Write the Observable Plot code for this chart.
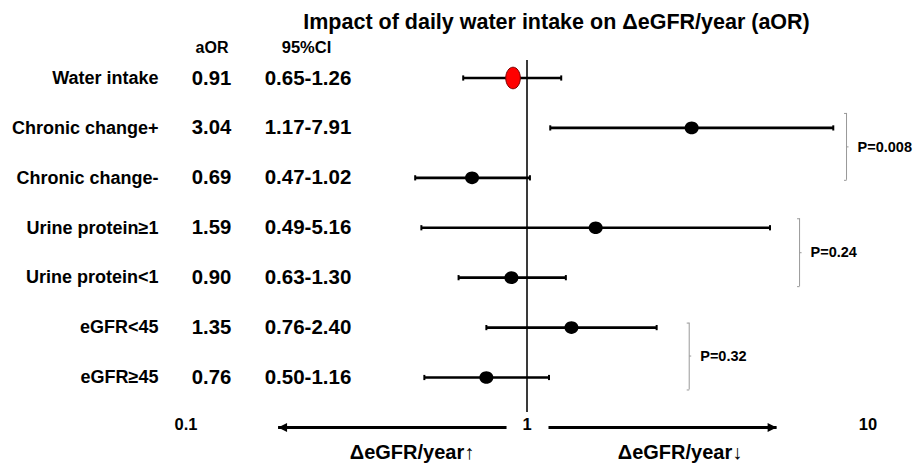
<!DOCTYPE html>
<html>
<head>
<meta charset="utf-8">
<script src="https://cdn.jsdelivr.net/npm/d3@7"></script>
<script src="https://cdn.jsdelivr.net/npm/@observablehq/plot@0.6"></script>
<style>
  html, body { margin: 0; padding: 0; background: #fff; }
  #chart svg { display: block; }
</style>
</head>
<body>
<div id="chart"></div>
<script>
// ---- data ----
const labels = ["Water intake", "Chronic change+", "Chronic change-", "Urine protein≥1", "Urine protein<1", "eGFR<45", "eGFR≥45"];
const aor = [0.91, 3.04, 0.69, 1.59, 0.90, 1.35, 0.76];
const ciLow = [0.65, 1.17, 0.47, 0.49, 0.63, 0.76, 0.50];
const ciHigh = [1.26, 7.91, 1.02, 5.16, 1.30, 2.40, 1.16];
const xTicks = [0.1, 1, 10];
const xTickLabels = ["0.1", "1", "10"];
const pGroups = [[1, 2], [3, 4], [5, 6]];
const pLabels = ["P=0.008", "P=0.24", "P=0.32"];
const title = "Impact of daily water intake on ΔeGFR/year (aOR)";
const arrowLabels = ["ΔeGFR/year↑", "ΔeGFR/year↓"];

// ---- layout (annotation geometry, not data) ----
const bracketLayout = [
  {x: 8.65, top: -0.29, bottom: 0.05, mid: -0.12},
  {x: 6.30, top: -0.18, bottom: 0.18, mid: 0.0},
  {x: 2.99, top: -0.09, bottom: 0.25, mid: 0.07}
];
const axisRow = labels.length; // row slot of the bottom arrows

const rows = labels.map((label, i) => ({
  i, label, aor: aor[i], lo: ciLow[i], hi: ciHigh[i],
  aorText: aor[i].toFixed(2),
  ciText: ciLow[i].toFixed(2) + "-" + ciHigh[i].toFixed(2)
}));
const caps = rows.flatMap(d => [{i: d.i, x: d.lo}, {i: d.i, x: d.hi}]);
const brackets = pGroups.map(([a, b], k) => ({
  x: bracketLayout[k].x,
  top: a + bracketLayout[k].top,
  bottom: b + bracketLayout[k].bottom,
  mid: (a + b) / 2 + bracketLayout[k].mid,
  label: pLabels[k]
}));
const arrows = [
  {from: Math.pow(10, -0.06), to: Math.pow(10, -0.73), dir: "left"},
  {from: Math.pow(10, 0.063), to: Math.pow(10, 0.732), dir: "right"}
];

// ---- custom symbols ----
function ellipse(rx, ry) {
  const k = 0.5523;
  return {draw(ctx) {
    ctx.moveTo(rx, 0);
    ctx.bezierCurveTo(rx, ry * k, rx * k, ry, 0, ry);
    ctx.bezierCurveTo(-rx * k, ry, -rx, ry * k, -rx, 0);
    ctx.bezierCurveTo(-rx, -ry * k, -rx * k, -ry, 0, -ry);
    ctx.bezierCurveTo(rx * k, -ry, rx, -ry * k, rx, 0);
    ctx.closePath();
  }};
}
const vCap = {draw(ctx) { ctx.moveTo(0, -2.6); ctx.lineTo(0, 2.6); }};
const stubLeft = {draw(ctx) { ctx.moveTo(-2.5, 0); ctx.lineTo(0, 0); }};
const stubRight = {draw(ctx) { ctx.moveTo(0, 0); ctx.lineTo(2, 0); }};
const headLeft = {draw(ctx) { ctx.moveTo(0, 0); ctx.lineTo(9, -4.5); ctx.lineTo(9, 4.5); ctx.closePath(); }};
const headRight = {draw(ctx) { ctx.moveTo(0, 0); ctx.lineTo(-9, -4.5); ctx.lineTo(-9, 4.5); ctx.closePath(); }};

const font = "'Liberation Sans', Arial, Helvetica, sans-serif";

const chart = Plot.plot({
  width: 918,
  height: 466,
  marginTop: 0, marginRight: 0, marginBottom: 0, marginLeft: 0,
  style: {fontFamily: font, background: "#fff", overflow: "visible"},
  x: {type: "log", domain: [0.1, 10], range: [185.5, 867.5], axis: null},
  y: {type: "linear", domain: [0, 6], range: [77.5, 377], axis: null},
  marks: [
    // title & headers
    Plot.text([title], {frameAnchor: "top-left", dx: 556, dy: 22, textAnchor: "middle", lineAnchor: "middle", fontSize: 21.5, fontWeight: "bold"}),
    Plot.text(["aOR"], {frameAnchor: "top-left", dx: 211.5, dy: 47, textAnchor: "middle", lineAnchor: "middle", fontSize: 16, fontWeight: "bold"}),
    Plot.text(["95%CI"], {frameAnchor: "top-left", dx: 306, dy: 47, textAnchor: "middle", lineAnchor: "middle", fontSize: 16.5, fontWeight: "bold"}),
    // row texts
    Plot.text(rows, {y: "i", text: "label", frameAnchor: "left", dx: 158, textAnchor: "end", lineAnchor: "middle", fontSize: 18, fontWeight: "bold"}),
    Plot.text(rows, {y: "i", text: "aorText", frameAnchor: "left", dx: 211, textAnchor: "middle", lineAnchor: "middle", fontSize: 20.3, fontWeight: "bold"}),
    Plot.text(rows, {y: "i", text: "ciText", frameAnchor: "left", dx: 307.5, textAnchor: "middle", lineAnchor: "middle", fontSize: 20.5, fontWeight: "bold"}),
    // reference line at 1
    Plot.ruleX([1], {stroke: "#3a3a3a", strokeWidth: 2, insetTop: 60, insetBottom: 54}),
    // CI bars
    Plot.link(rows, {x1: "lo", x2: "hi", y1: "i", y2: "i", stroke: "#000", strokeWidth: 2.7}),
    Plot.dot(caps, {x: "x", y: "i", symbol: vCap, r: 3, stroke: "#000", strokeWidth: 2, fill: "none"}),
    // point estimates
    Plot.dot(rows.filter(d => d.i > 0), {x: "aor", y: "i", symbol: ellipse(7, 6.3), r: 6, fill: "#000", stroke: "none"}),
    Plot.dot(rows.filter(d => d.i === 0), {x: "aor", y: "i", symbol: ellipse(7.3, 10.8), r: 6, fill: "#ff0000", stroke: "#7a0000", strokeWidth: 1}),
    // brackets
    Plot.ruleX(brackets, {x: "x", y1: "top", y2: "bottom", stroke: "#999", strokeWidth: 1}),
    Plot.dot(brackets, {x: "x", y: "top", symbol: stubLeft, r: 2, stroke: "#999", strokeWidth: 1, fill: "none"}),
    Plot.dot(brackets, {x: "x", y: "bottom", symbol: stubLeft, r: 2, stroke: "#999", strokeWidth: 1, fill: "none"}),
    Plot.dot(brackets, {x: "x", y: "mid", symbol: stubRight, r: 2, stroke: "#999", strokeWidth: 1, fill: "none"}),
    Plot.text(brackets, {x: "x", y: "mid", text: "label", dx: 11, textAnchor: "start", lineAnchor: "middle", fontSize: 14.5, fontWeight: "bold"}),
    // bottom axis labels
    Plot.text(xTicks, {x: d => d, text: (d, i) => xTickLabels[i], frameAnchor: "top", dy: 424, lineAnchor: "middle", fontSize: 16.5, fontWeight: "bold"}),
    // arrows
    Plot.link(arrows, {x1: "from", x2: "to", y1: () => axisRow, y2: () => axisRow, stroke: "#000", strokeWidth: 3}),
    Plot.dot(arrows.filter(d => d.dir === "left"), {x: "to", y: () => axisRow, symbol: headLeft, r: 4, fill: "#000", stroke: "none"}),
    Plot.dot(arrows.filter(d => d.dir === "right"), {x: "to", y: () => axisRow, symbol: headRight, r: 4, fill: "#000", stroke: "none"}),
    Plot.text([arrowLabels[0]], {frameAnchor: "top-left", dx: 411.5, dy: 452, textAnchor: "middle", lineAnchor: "middle", fontSize: 20, fontWeight: "bold"}),
    Plot.text([arrowLabels[1]], {frameAnchor: "top-left", dx: 679.5, dy: 452, textAnchor: "middle", lineAnchor: "middle", fontSize: 20, fontWeight: "bold"})
  ]
});
document.getElementById("chart").appendChild(chart);
</script>
</body>
</html>
